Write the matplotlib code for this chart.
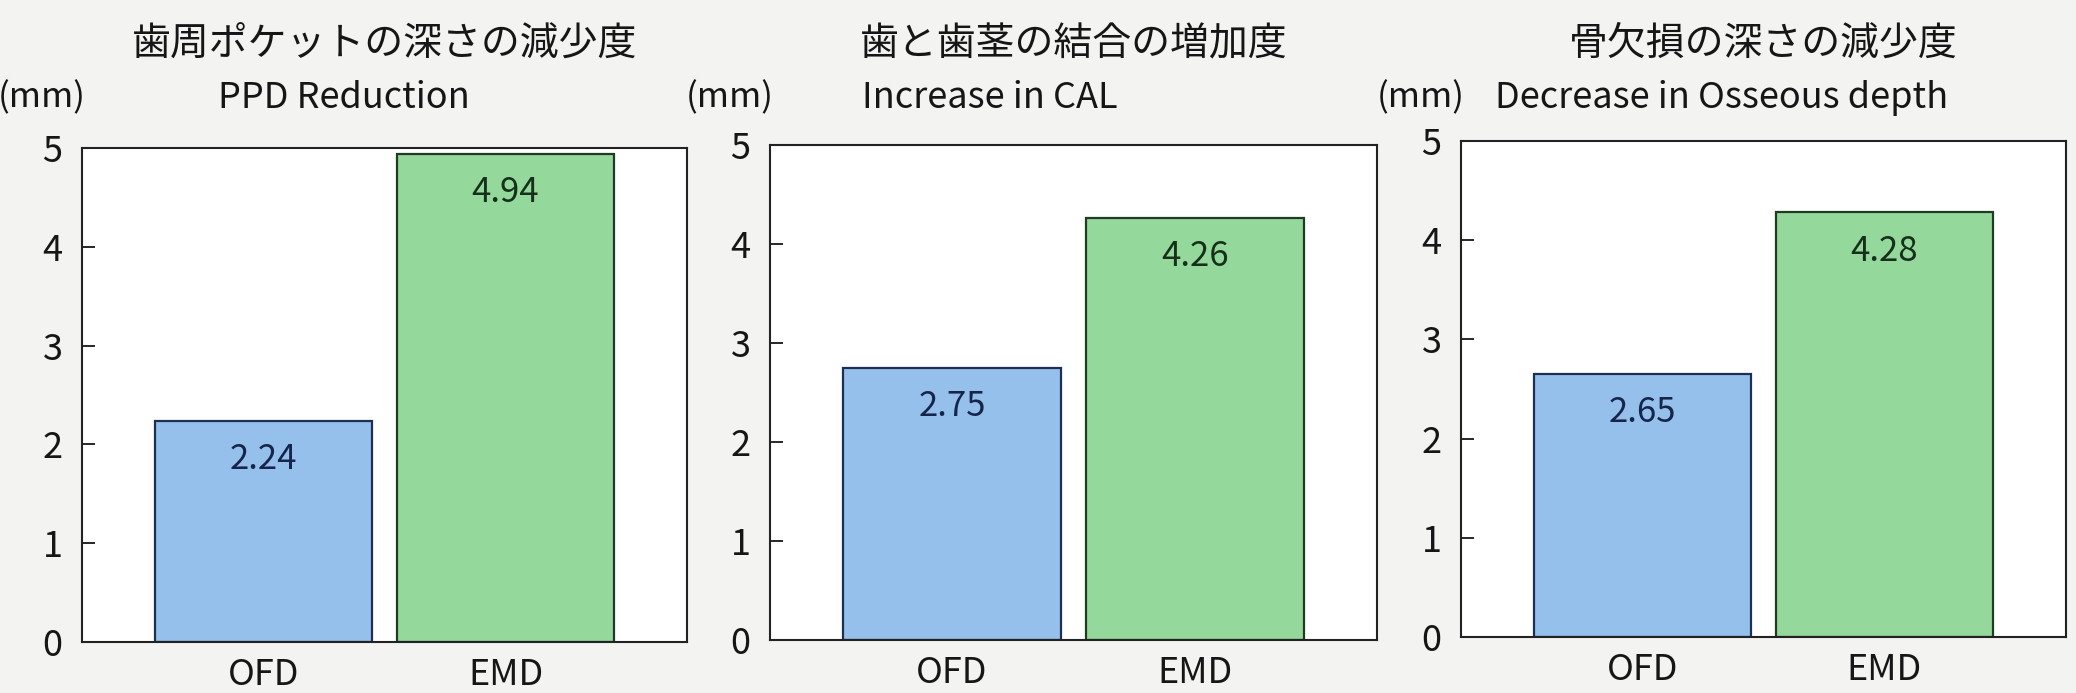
import matplotlib
matplotlib.use("Agg")
import matplotlib.pyplot as plt

plt.rcParams['font.family'] = ['Noto Sans CJK JP', 'DejaVu Sans']

groups = ['OFD', 'EMD']
titles_jp = ['歯周ポケットの深さの減少度', '歯と歯茎の結合の増加度', '骨欠損の深さの減少度']
titles_en = ['PPD Reduction', 'Increase in CAL', 'Decrease in Osseous depth']
ppd_reduction = [2.24, 4.94]
cal_gain = [2.75, 4.26]
osseous_decrease = [2.65, 4.28]
yticks = [0, 1, 2, 3, 4, 5]

series = [ppd_reduction, cal_gain, osseous_decrease]

fill_colors = ['#95c0eb', '#94d99b']
edge_colors = ['#1d2f52', '#1f3b22']
label_colors = ['#15264a', '#16301b']
ink = '#161616'

W, H = 2076, 693
fig = plt.figure(figsize=(W / 100, H / 100), dpi=100)
fig.patch.set_facecolor('#f3f3f1')

# panel boxes in pixels: left, right, top, bottom
boxes = [(82, 687, 148, 642), (770, 1377, 145, 640), (1461, 2066, 141, 637)]
sub_x = [344, 990, 1722]

for i, (vals, (l, r, t, b)) in enumerate(zip(series, boxes)):
    ax = fig.add_axes([l / W, (H - b) / H, (r - l) / W, (b - t) / H])
    ax.set_facecolor('white')
    x = range(len(groups))
    ax.bar(x, vals, width=0.9, color=fill_colors, edgecolor=edge_colors,
           linewidth=1.6, zorder=2)
    for xi, v in zip(x, vals):
        ax.text(xi, v - 0.39, f'{v:.2f}', ha='center', va='center',
                fontsize=25, color=label_colors[xi], zorder=3)
    ax.set_xlim(-0.75, 1.75)
    ax.set_ylim(0, 5)
    ax.set_yticks(yticks)
    ax.set_xticks(list(x))
    ax.set_xticklabels(groups)
    ax.tick_params(axis='y', direction='in', length=9, width=1.3,
                   labelsize=26, pad=14, colors=ink)
    ax.tick_params(axis='x', length=0, labelsize=26, pad=11, colors=ink)
    for s in ax.spines.values():
        s.set_linewidth(1.5)
        s.set_color('#222222')

    cx = (l + r) / 2
    fig.text(cx / W, 1 - 44 / H, titles_jp[i], ha='center', va='center',
             fontsize=28, color=ink)
    fig.text(sub_x[i] / W, 1 - 98 / H, titles_en[i], ha='center',
             va='center', fontsize=26, color=ink)
    fig.text((l + 4) / W, 1 - 98 / H, '(mm)', ha='right', va='center',
             fontsize=25, color=ink)

fig.savefig('out.png', dpi=100, facecolor=fig.get_facecolor())
